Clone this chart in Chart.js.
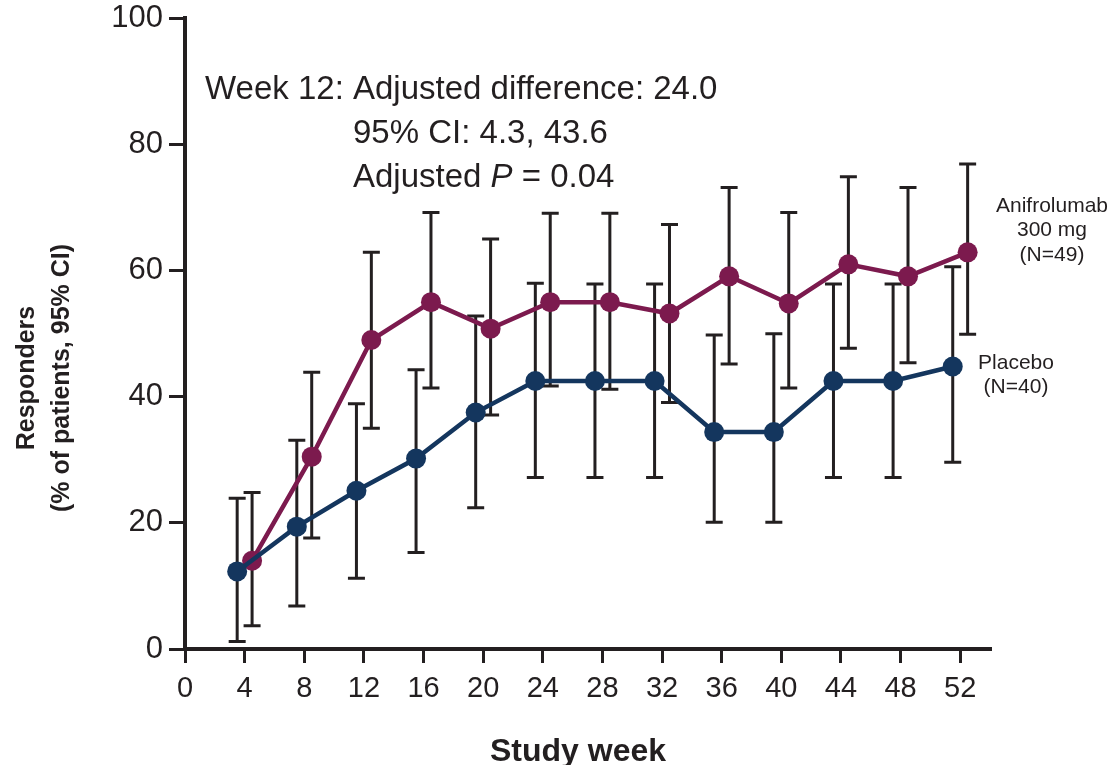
<!DOCTYPE html>
<html>
<head>
<meta charset="utf-8">
<script src="https://cdn.jsdelivr.net/npm/chart.js@4/dist/chart.umd.min.js"></script>
<style>
  html, body { margin: 0; padding: 0; background: #ffffff; }
  #wrap { position: relative; width: 1119px; height: 765px; }
</style>
</head>
<body>
<div id="wrap"><canvas id="chart" width="1119" height="765"></canvas></div>
<script>
// Study visits (weeks) and tick labels
const weeks = [4, 8, 12, 16, 20, 24, 28, 32, 36, 40, 44, 48, 52];
const xTicks = [0, 4, 8, 12, 16, 20, 24, 28, 32, 36, 40, 44, 48, 52];
const yTicks = [0, 20, 40, 60, 80, 100];

// Responders (% of patients) with 95% CI
const anifroValues = [14.0, 30.5, 49.0, 55.0, 50.8, 55.0, 55.0, 53.2, 59.1, 54.8, 61.0, 59.1, 62.9];
const anifroLower  = [3.7, 17.6, 35.0, 41.4, 37.1, 41.7, 41.2, 39.1, 45.2, 41.4, 47.7, 45.4, 49.9];
const anifroUpper  = [24.8, 43.9, 62.9, 69.2, 65.0, 69.1, 69.1, 67.3, 73.2, 69.2, 74.9, 73.2, 76.9];

const placeboValues = [12.3, 19.4, 25.1, 30.2, 37.5, 42.5, 42.5, 42.5, 34.4, 34.4, 42.5, 42.5, 44.8];
const placeboLower  = [1.2, 6.8, 11.2, 15.3, 22.4, 27.2, 27.2, 27.2, 20.1, 20.1, 27.2, 27.2, 29.6];
const placeboUpper  = [23.9, 33.1, 38.9, 44.3, 52.8, 58.0, 57.9, 57.9, 49.8, 50.0, 57.9, 57.9, 60.6];

// Horizontal dodge so the two groups' error bars don't overlap
const anifroShift = 0.5;
const placeboShift = -0.5;

const INK = '#231f20';
const PLUM = '#7c1a4e';
const NAVY = '#14365e';

function points(vals, shift) {
  return weeks.map((w, i) => ({ x: w + shift, y: vals[i] }));
}

const errorBars = {
  id: 'errorBars',
  beforeDatasetsDraw(chart) {
    const { ctx, scales: { x, y } } = chart;
    const groups = [
      { lo: placeboLower, hi: placeboUpper, shift: placeboShift },
      { lo: anifroLower, hi: anifroUpper, shift: anifroShift }
    ];
    ctx.save();
    ctx.strokeStyle = INK;
    ctx.lineWidth = 3;
    ctx.lineCap = 'butt';
    const cap = 8.5;
    groups.forEach(g => {
      weeks.forEach((w, i) => {
        const px = x.getPixelForValue(w + g.shift);
        const top = y.getPixelForValue(g.hi[i]);
        const bot = y.getPixelForValue(g.lo[i]);
        ctx.beginPath();
        ctx.moveTo(px, top); ctx.lineTo(px, bot);
        ctx.moveTo(px - cap, top); ctx.lineTo(px + cap, top);
        ctx.moveTo(px - cap, bot); ctx.lineTo(px + cap, bot);
        ctx.stroke();
      });
    });
    ctx.restore();
  }
};

const textLayer = {
  id: 'textLayer',
  afterDraw(chart) {
    const { ctx } = chart;
    ctx.save();
    ctx.fillStyle = INK;
    ctx.textBaseline = 'alphabetic';

    // Week 12 comparison annotation
    const reg = '33px "Liberation Sans", Arial, sans-serif';
    ctx.font = reg;
    ctx.textAlign = 'left';
    const x0 = 205;
    const lead = 'Week 12: ';
    ctx.fillText(lead + 'Adjusted difference: 24.0', x0, 99);
    const x1 = x0 + ctx.measureText(lead).width;
    ctx.fillText('95% CI: 4.3, 43.6', x1, 143);
    const adj = 'Adjusted ';
    ctx.fillText(adj, x1, 187);
    let cx = x1 + ctx.measureText(adj).width;
    ctx.font = 'italic 33px "Liberation Sans", Arial, sans-serif';
    ctx.fillText('P', cx, 187);
    cx += ctx.measureText('P').width;
    ctx.font = reg;
    ctx.fillText(' = 0.04', cx, 187);

    // Series labels
    ctx.textAlign = 'center';
    ctx.font = '21px "Liberation Sans", Arial, sans-serif';
    ctx.fillText('Anifrolumab', 1052, 212);
    ctx.fillText('300 mg', 1052, 236);
    ctx.fillText('(N=49)', 1052, 261);
    ctx.fillText('Placebo', 1016, 369);
    ctx.fillText('(N=40)', 1016, 393);

    // Axis titles
    ctx.font = 'bold 32px "Liberation Sans", Arial, sans-serif';
    ctx.fillText('Study week', 578, 761);

    ctx.save();
    ctx.translate(45, 378);
    ctx.rotate(-Math.PI / 2);
    ctx.font = 'bold 25px "Liberation Sans", Arial, sans-serif';
    ctx.textBaseline = 'middle';
    ctx.fillText('Responders', 0, -18);
    ctx.fillText('(% of patients, 95% CI)', 0, 17);
    ctx.restore();
    ctx.restore();
  }
};

new Chart(document.getElementById('chart'), {
  type: 'line',
  data: {
    datasets: [
      {
        label: 'Placebo (N=40)',
        data: points(placeboValues, placeboShift),
        borderColor: NAVY,
        backgroundColor: NAVY,
        borderWidth: 4.5,
        pointRadius: 10,
        pointBorderWidth: 0,
        pointBackgroundColor: NAVY,
        tension: 0
      },
      {
        label: 'Anifrolumab 300 mg (N=49)',
        data: points(anifroValues, anifroShift),
        borderColor: PLUM,
        backgroundColor: PLUM,
        borderWidth: 4.5,
        pointRadius: 10,
        pointBorderWidth: 0,
        pointBackgroundColor: PLUM,
        tension: 0
      }
    ]
  },
  options: {
    responsive: false,
    animation: false,
    layout: { padding: { left: 0, right: 129, top: 15, bottom: 0 } },
    plugins: {
      legend: { display: false },
      tooltip: { enabled: false }
    },
    scales: {
      x: {
        type: 'linear',
        min: 0,
        max: 54,
        afterBuildTicks(scale) { scale.ticks = xTicks.map(v => ({ value: v })); },
        afterFit(scale) { scale.height = 116; },
        ticks: {
          color: INK,
          padding: 9,
          maxRotation: 0,
          autoSkip: false,
          font: { family: '"Liberation Sans", Arial', size: 29 }
        },
        grid: {
          drawOnChartArea: false,
          drawTicks: true,
          tickLength: 14,
          color: INK,
          lineWidth: 3
        },
        border: { display: true, color: INK, width: 4 }
      },
      y: {
        min: 0,
        max: 100,
        afterBuildTicks(scale) { scale.ticks = yTicks.map(v => ({ value: v })); },
        afterFit(scale) { scale.width = 185; },
        ticks: {
          color: INK,
          padding: 6,
          font: { family: '"Liberation Sans", Arial', size: 31, lineHeight: 0.8 }
        },
        grid: {
          drawOnChartArea: false,
          drawTicks: true,
          tickLength: 16,
          color: INK,
          lineWidth: 3
        },
        border: { display: true, color: INK, width: 4 }
      }
    }
  },
  plugins: [errorBars, textLayer]
});
</script>
</body>
</html>
